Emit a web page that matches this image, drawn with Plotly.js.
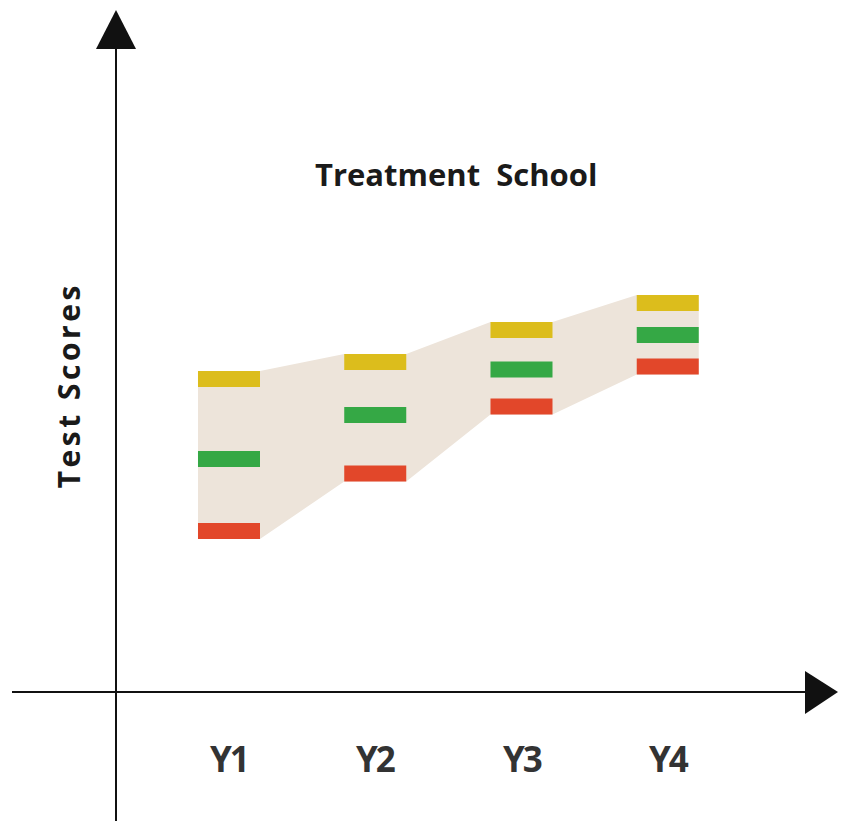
<!DOCTYPE html>
<html>
<head>
<meta charset="utf-8">
<script src="https://cdn.plot.ly/plotly-3.0.1.min.js"></script>
<style>
html,body{margin:0;padding:0;background:#fff;}
#chart{width:845px;height:821px;}
</style>
</head>
<body>
<div id="chart"></div>
<script>
// ---- data ----
const years = ["Y1", "Y2", "Y3", "Y4"];
const yearPos = [1, 2, 3, 4];
const topScores = [31.3, 33.0, 36.2, 38.9];    // yellow
const midScores = [23.3, 27.7, 32.25, 35.7];   // green
const lowScores = [16.1, 21.85, 28.55, 32.55]; // red

// ---- styling ----
const W = 845, H = 821;
const barHalfW = 0.212, barH = 1.6;
const colTop = "#dcbd1c", colMid = "#35a845", colLow = "#e2472a", colBand = "#ede4da";
const xRange = [-0.5658, 5.2120];
const yRange = [-12.9, 69.2];

// band polygon
const bandX = [], bandY = [];
yearPos.forEach((x, i) => { bandX.push(x - barHalfW, x + barHalfW); bandY.push(topScores[i] + barH/2, topScores[i] + barH/2); });
for (let i = yearPos.length - 1; i >= 0; i--) { const x = yearPos[i]; bandX.push(x + barHalfW, x - barHalfW); bandY.push(lowScores[i] - barH/2, lowScores[i] - barH/2); }

function barTrace(vals, color) {
  const xs = [], ys = [];
  yearPos.forEach((x, i) => { xs.push(x - barHalfW, x + barHalfW, null); ys.push(vals[i], vals[i], null); });
  return {type: "scatter", mode: "lines", x: xs, y: ys, connectgaps: false,
          line: {color: color, width: 16}, hoverinfo: "skip", showlegend: false};
}

const traces = [
  {type: "scatter", mode: "lines", x: bandX, y: bandY, fill: "toself", fillcolor: colBand,
   line: {width: 0, color: colBand}, hoverinfo: "skip", showlegend: false},
  barTrace(topScores, colTop),
  barTrace(midScores, colMid),
  barTrace(lowScores, colLow)
];

// pixel -> paper helpers for axis decorations
const px = v => v / W, py = v => 1 - v / H;
const axCol = "#111111";
const shapes = [
  {type: "line", xref: "paper", yref: "paper", x0: px(116), x1: px(116), y0: py(48), y1: py(821), line: {color: axCol, width: 2}},
  {type: "path", xref: "paper", yref: "paper", fillcolor: axCol, line: {width: 0},
   path: `M ${px(116)} ${py(10)} L ${px(96)} ${py(49)} L ${px(136)} ${py(49)} Z`},
  {type: "line", xref: "paper", yref: "paper", x0: px(12), x1: px(807), y0: py(692), y1: py(692), line: {color: axCol, width: 2}},
  {type: "path", xref: "paper", yref: "paper", fillcolor: axCol, line: {width: 0},
   path: `M ${px(838)} ${py(692)} L ${px(805)} ${py(671)} L ${px(805)} ${py(714)} Z`}
];

const annotations = [
  {text: "Test Scores", xref: "paper", yref: "paper", x: px(68), y: py(385), textangle: -90,
   showarrow: false, xanchor: "center", yanchor: "middle",
   font: {family: "Open Sans", size: 30, weight: 700, color: "#1a1a1a"}},
  {text: "Treatment  School", xref: "paper", yref: "paper", x: px(456), y: py(174),
   showarrow: false, xanchor: "center", yanchor: "middle",
   font: {family: "Open Sans", size: 31, weight: 700, color: "#1a1a1a"}}
];
years.forEach((lab, i) => annotations.push({
  text: lab, x: yearPos[i], y: -6.6, xref: "x", yref: "y", showarrow: false,
  xanchor: "center", yanchor: "middle",
  font: {family: "Open Sans", size: 35, weight: 700, color: "#333333"}
}));

const layout = {
  width: W, height: H,
  margin: {l: 0, r: 0, t: 0, b: 0},
  paper_bgcolor: "#ffffff", plot_bgcolor: "#ffffff",
  showlegend: false,
  xaxis: {range: xRange, visible: false, fixedrange: true},
  yaxis: {range: yRange, visible: false, fixedrange: true},
  shapes: shapes,
  annotations: annotations
};

Plotly.newPlot("chart", traces, layout, {displayModeBar: false, staticPlot: true}).then(() => {
  document.querySelectorAll(".annotation-text").forEach(t => {
    if (t.textContent === "Test Scores") t.style.letterSpacing = "3.5px";
    if (/^Y\d$/.test(t.textContent)) t.style.letterSpacing = "-2px";
  });
});
</script>
</body>
</html>
